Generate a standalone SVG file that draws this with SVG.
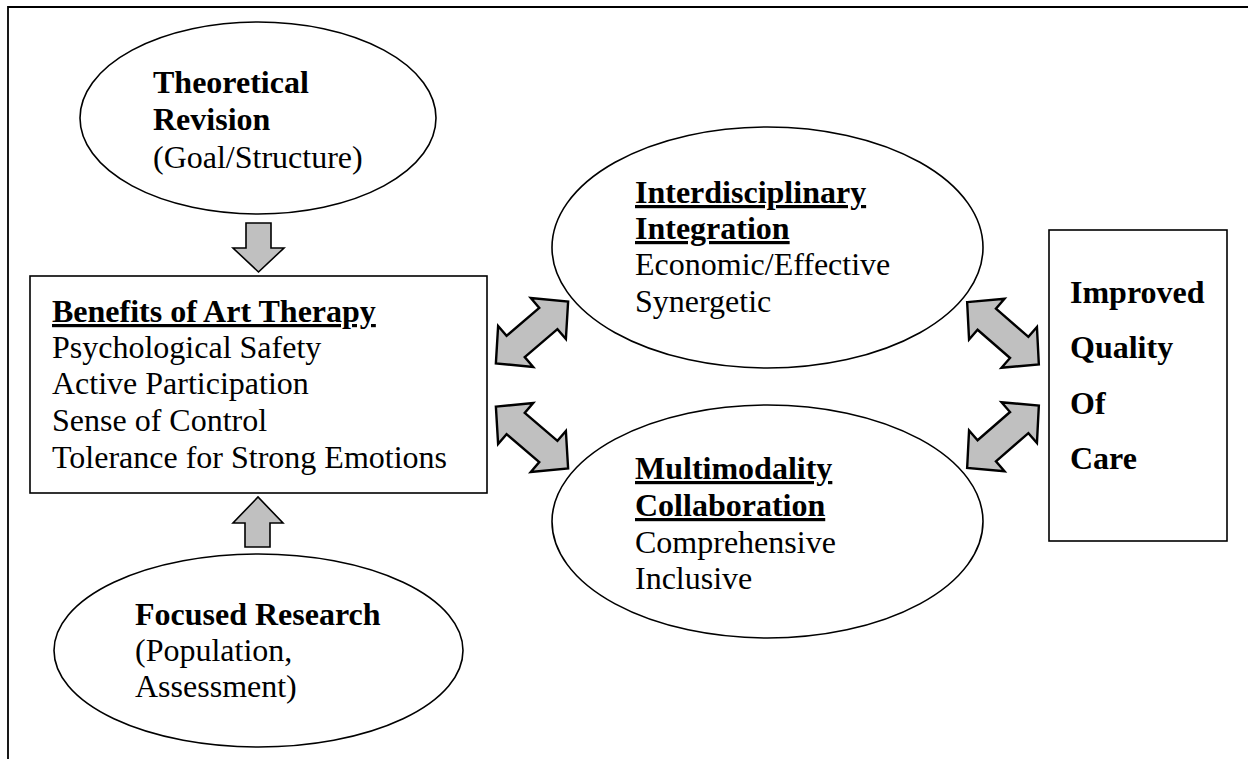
<svg xmlns="http://www.w3.org/2000/svg" width="1248" height="759" viewBox="0 0 1248 759">
<style>
text{font-family:"Liberation Serif","Times New Roman",serif;font-size:32px;fill:#000}
.b{font-weight:bold}
.u{text-decoration:underline}
.shape{fill:#fff;stroke:#000;stroke-width:1.6}
.varrow{fill:#c0c0c0;stroke:#000;stroke-width:1.6;stroke-linejoin:miter}
.darrow{fill:#c0c0c0;stroke:#000;stroke-width:2.4;stroke-linejoin:miter}
</style>
<defs>
<path id="dbl" d="M-47.5,0 L-21.5,-27 L-21.5,-14 L21.5,-14 L21.5,-27 L47.5,0 L21.5,27 L21.5,14 L-21.5,14 L-21.5,27 Z"/>
</defs>
<rect x="0" y="0" width="1248" height="759" fill="#fff"/>
<path d="M8,759 L8,7 L1248,7" fill="none" stroke="#000" stroke-width="1.8"/>

<g id="theoretical">
<ellipse class="shape" cx="258" cy="118" rx="178" ry="96"/>
<text x="153" y="93" class="b">Theoretical</text>
<text x="153" y="130" class="b">Revision</text>
<text x="153" y="168">(Goal/Structure)</text>
</g>

<g id="benefits">
<rect class="shape" x="30" y="276" width="457" height="217"/>
<text x="52" y="322" class="b u">Benefits of Art Therapy</text>
<text x="52" y="358">Psychological Safety</text>
<text x="52" y="394">Active Participation</text>
<text x="52" y="431">Sense of Control</text>
<text x="52" y="468">Tolerance for Strong Emotions</text>
</g>

<g id="focused">
<ellipse class="shape" cx="258.5" cy="650.5" rx="204.5" ry="96.5"/>
<text x="135" y="625" class="b">Focused Research</text>
<text x="135" y="661">(Population,</text>
<text x="135" y="697">Assessment)</text>
</g>

<g id="interdisciplinary">
<ellipse class="shape" cx="767.5" cy="247.5" rx="215.5" ry="120.5"/>
<text x="635" y="203" class="b u">Interdisciplinary</text>
<text x="635" y="239" class="b u">Integration</text>
<text x="635" y="275">Economic/Effective</text>
<text x="635" y="312">Synergetic</text>
</g>

<g id="multimodality">
<ellipse class="shape" cx="767.5" cy="521.5" rx="215.5" ry="116.5"/>
<text x="635" y="479" class="b u">Multimodality</text>
<text x="635" y="516" class="b u">Collaboration</text>
<text x="635" y="553">Comprehensive</text>
<text x="635" y="589">Inclusive</text>
</g>

<g id="improved">
<rect class="shape" x="1049" y="230" width="178" height="311"/>
<text x="1070" y="303" class="b">Improved</text>
<text x="1070" y="358" class="b">Quality</text>
<text x="1070" y="414" class="b">Of</text>
<text x="1070" y="469" class="b">Care</text>
</g>

<g id="connectors">
<path class="varrow" d="M246,223 L271,223 L271,248 L284,248 L258.5,272 L233,248 L246,248 Z"/>
<path class="varrow" d="M245,547 L270,547 L270,523 L283,523 L258,497 L233,523 L245,523 Z"/>
<use href="#dbl" class="darrow" transform="translate(532,332.5) rotate(-40.5)"/>
<use href="#dbl" class="darrow" transform="translate(532,437.5) rotate(40.5)"/>
<use href="#dbl" class="darrow" transform="translate(1003,333.3) rotate(41)"/>
<use href="#dbl" class="darrow" transform="translate(1003,436.7) rotate(-41)"/>
</g>
</svg>
